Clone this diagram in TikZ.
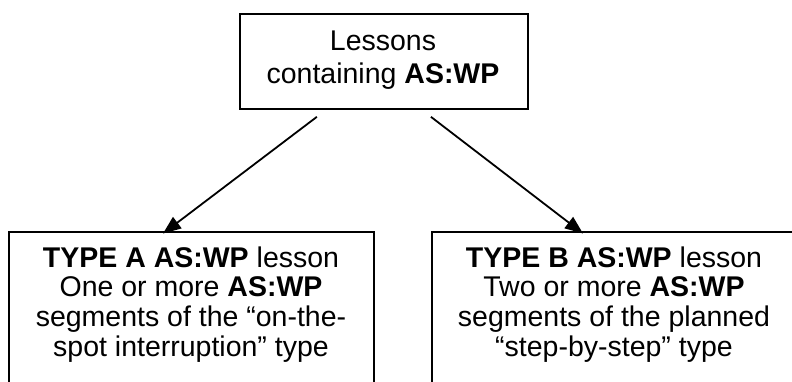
\documentclass[tikz,border=0pt]{standalone}
\usepackage{fontspec}
\setmainfont{Liberation Sans}
\usetikzlibrary{arrows.meta}
\tikzset{
  box/.style={draw=black, line width=1.8bp, rectangle, inner sep=0pt},
  boxtext/.style={align=center, inner sep=0pt, text=black},
  toptext/.style={boxtext, font=\fontsize{28.6}{32.8}\selectfont},
  lowtext/.style={boxtext, font=\fontsize{28.6}{30.0}\selectfont},
  arr/.style={line width=1.8bp, -{Triangle[length=18bp,width=14bp]}}
}
\begin{document}
\begin{tikzpicture}[x=1bp, y=-1bp]
  \clip (0,0) rectangle (792,381);
  \fill[white] (0,0) rectangle (792,381);

  % top box
  \node[box, minimum width=288bp, minimum height=95.6bp, anchor=north west] (top) at (239,12.7) {};
  % the base anchor of a multi-line node sits on its last baseline
  \node[toptext, anchor=base] (toptxt) at (383,83.3) {Lessons\\containing \textbf{AS:WP}};

  % lower boxes (running off the page edge)
  \node[box, minimum width=365bp, minimum height=160bp, anchor=north west] (boxA) at (8,231) {};
  \node[box, minimum width=365bp, minimum height=160bp, anchor=north west] (boxB) at (431,231) {};

  \node[lowtext, anchor=base] (txtA) at (191,356.7)
    {\textbf{TYPE A AS:WP} lesson\\One or more \textbf{AS:WP}\\segments of the “on-the-\\spot interruption” type};
  \node[lowtext, anchor=base] (txtB) at (614,356.7)
    {\textbf{TYPE B AS:WP} lesson\\Two or more \textbf{AS:WP}\\segments of the planned\\“step-by-step” type};

  % connectors
  \coordinate (sA) at ([xshift=-67bp,yshift=-6.7bp]top.south);
  \coordinate (sB) at ([xshift=47bp,yshift=-6.7bp]top.south);
  \coordinate (eA) at ([xshift=155bp,yshift=-2.5bp]boxA.north west);
  \coordinate (eB) at ([xshift=152bp,yshift=-2.5bp]boxB.north west);
  \draw[arr] (sA) -- (eA);
  \draw[arr] (sB) -- (eB);
\end{tikzpicture}
\end{document}
